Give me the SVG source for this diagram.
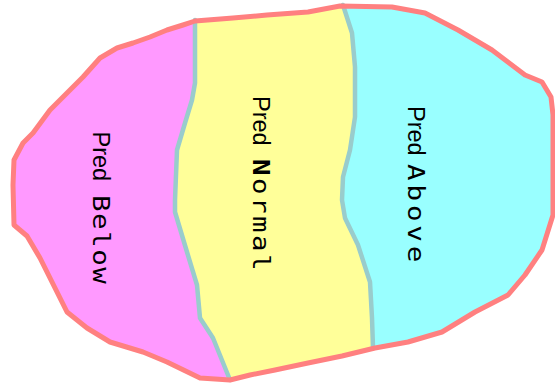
<svg xmlns="http://www.w3.org/2000/svg" width="555" height="385" viewBox="0 0 555 385">
<style>
.div{fill:none;stroke:#99CCCC;stroke-width:4.5;stroke-linejoin:round;stroke-linecap:round}
.outline{fill:none;stroke:#FF8080;stroke-width:5;stroke-linejoin:round}
</style>
<defs>
<clipPath id="blob">
<path d="M195,21 L233,18 L267,15 L308,12 L340,6 L392,7 L425,13 L458,30 L492,50 L525,75 L542,82 L551,97 L553,115 L553,215 L542,250 L525,275 L508,295 L475,312 L442,332 L408,342 L375,348 L342,356 L308,363 L275,370 L250,375 L230,380 L200,378 L167,362 L143,352 L110,342 L87,328 L67,312 L50,278 L40,258 L27,236 L14,225 L13,185 L14,160 L23,143 L33,133 L50,110 L67,93 L83,77 L100,58 L117,48 L133,43 L150,37 L167,30 L183,25 Z"/>
</clipPath>
</defs>
<rect width="555" height="385" fill="#FFFFFF"/>
<g id="regions" clip-path="url(#blob)">
<rect width="555" height="385" fill="#FFFF99"/>
<path fill="#FF99FF" d="M0,0 L195,0 L195,20 L195,83 L192,100 L185,123 L177,150 L175,200 L175,212 L187,252 L197,285 L200,318 L213,338 L230,380 L230,385 L0,385 Z"/>
<path fill="#99FFFF" d="M343,0 L343,5 L352,33 L355,67 L355,117 L350,150 L343,177 L342,200 L345,218 L358,245 L370,282 L372,318 L373,348 L373,385 L555,385 L555,0 Z"/>
</g>
<g id="connectors">
<path class="div" d="M195,20 L195,83 L192,100 L185,123 L177,150 L175,200 L175,212 L187,252 L197,285 L200,318 L213,338 L230,380"/>
<path class="div" d="M343,5 L352,33 L355,67 L355,117 L350,150 L343,177 L342,200 L345,218 L358,245 L370,282 L372,318 L373,348"/>
</g>
<g id="outline">
<path class="outline" d="M195,21 L233,18 L267,15 L308,12 L340,6 L392,7 L425,13 L458,30 L492,50 L525,75 L542,82 L551,97 L553,115 L553,215 L542,250 L525,275 L508,295 L475,312 L442,332 L408,342 L375,348 L342,356 L308,363 L275,370 L250,375 L230,380 L200,378 L167,362 L143,352 L110,342 L87,328 L67,312 L50,278 L40,258 L27,236 L14,225 L13,185 L14,160 L23,143 L33,133 L50,110 L67,93 L83,77 L100,58 L117,48 L133,43 L150,37 L167,30 L183,25 Z"/>
</g>
<g id="pred-below" fill="#000000">
<text font-family="Liberation Sans, Arial, sans-serif" font-size="23.5" transform="translate(92.5,131.5) rotate(90)">Pred</text>
<text font-family="DejaVu Sans Mono, Liberation Mono, monospace" font-size="23" transform="translate(92.5,195) rotate(90) scale(1.2,1)" textLength="74" lengthAdjust="spacing">Below</text>
</g>
<g id="pred-normal" fill="#000000">
<text font-family="Liberation Sans, Arial, sans-serif" font-size="23.5" transform="translate(252.5,96) rotate(90)">Pred</text>
<text font-family="DejaVu Sans Mono, Liberation Mono, monospace" font-size="23" transform="translate(252.5,159) rotate(90) scale(1.2,1)" textLength="93" lengthAdjust="spacing"><tspan font-weight="bold">N</tspan>ormal</text>
</g>
<g id="pred-above" fill="#000000">
<text font-family="Liberation Sans, Arial, sans-serif" font-size="23.5" transform="translate(407.5,106) rotate(90)">Pred</text>
<text font-family="DejaVu Sans Mono, Liberation Mono, monospace" font-size="23" transform="translate(407.5,164) rotate(90) scale(1.2,1)" textLength="82" lengthAdjust="spacing">Above</text>
</g>
</svg>
